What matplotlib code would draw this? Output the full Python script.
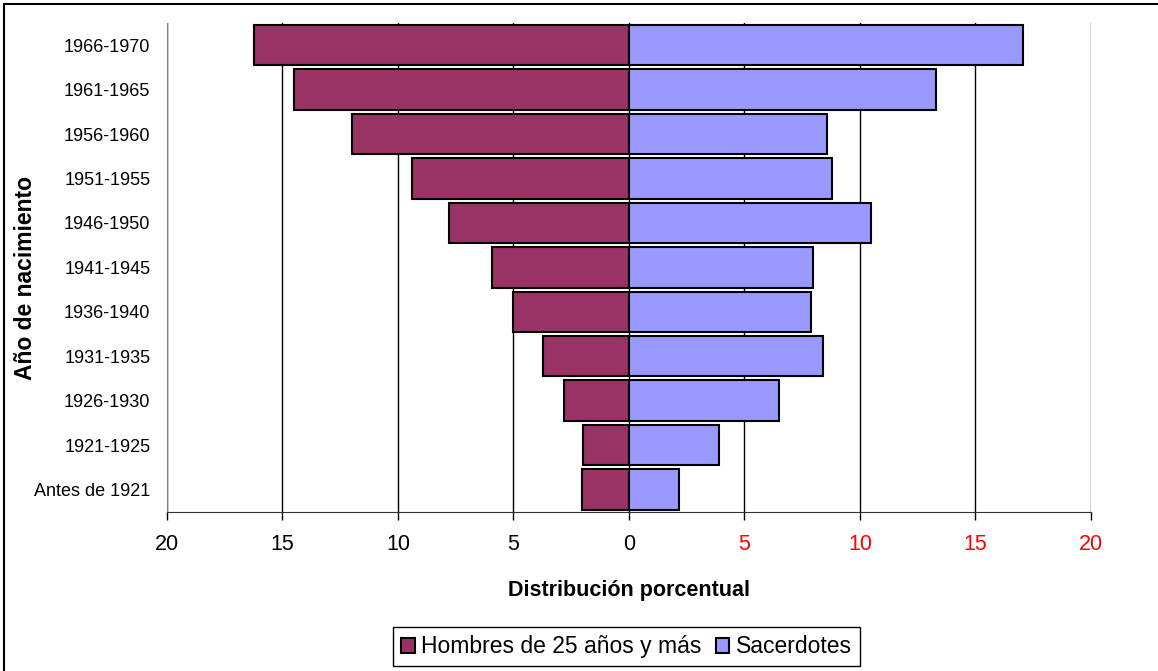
import matplotlib.pyplot as plt
from matplotlib.patches import Rectangle
from matplotlib.ticker import FixedLocator

plt.rcParams['font.family'] = ['Liberation Sans', 'DejaVu Sans']

cohortes = ['Antes de 1921', '1921-1925', '1926-1930', '1931-1935', '1936-1940',
            '1941-1945', '1946-1950', '1951-1955', '1956-1960', '1961-1965', '1966-1970']
hombres = [2.05, 1.98, 2.83, 3.72, 5.03, 5.95, 7.78, 9.38, 11.99, 14.5, 16.25]
sacerdotes = [2.15, 3.9, 6.49, 8.41, 7.88, 7.95, 10.48, 8.8, 8.57, 13.29, 17.04]
ticks = [-20, -15, -10, -5, 0, 5, 10, 15, 20]

col_h = '#993366'
col_s = '#9999FF'

fig = plt.figure(figsize=(11.58, 6.71), dpi=100)
ax = fig.add_axes([0.1442, 0.2374, 0.7979, 0.7283])

y = range(len(cohortes))
ax.barh(y, [-v for v in hombres], height=0.91, color=col_h, edgecolor='black',
        linewidth=1.5, label='Hombres de 25 años y más', zorder=3)
ax.barh(y, sacerdotes, height=0.91, color=col_s, edgecolor='black',
        linewidth=1.5, label='Sacerdotes', zorder=3)

ax.set_xlim(-20, 20)
ax.set_ylim(-0.5, len(cohortes) - 0.5)

ax.xaxis.set_major_locator(FixedLocator(ticks))
ax.set_xticklabels([str(abs(t)) for t in ticks], fontsize=15.5)
for t, lab in zip(ticks, ax.get_xticklabels()):
    lab.set_color('red' if t > 0 else 'black')
ax.tick_params(axis='x', direction='out', length=6, width=1, color='black', pad=10)

ax.set_yticks(list(y))
ax.set_yticklabels(cohortes, fontsize=13)
ax.tick_params(axis='y', length=0, pad=12)

ax.grid(axis='x', color='black', linewidth=1)
ax.set_axisbelow(True)

ax.spines['top'].set_visible(False)
ax.spines['right'].set_visible(False)
ax.spines['left'].set_color('#808080')
ax.spines['bottom'].set_color('#333333')

ax.set_xlabel('Distribución porcentual', fontsize=15.5, fontweight='bold')
ax.xaxis.set_label_coords(0.5, -0.14)
ax.set_ylabel('Año de nacimiento', fontsize=16.5, fontweight='bold')
ax.yaxis.set_label_coords(-0.141, 0.478)

fig.legend(loc='lower center', bbox_to_anchor=(0.541, 0.0), ncol=2, fontsize=16.5,
           frameon=True, fancybox=False, edgecolor='black', framealpha=1,
           handlelength=0.6, handleheight=0.6, handletextpad=0.3, columnspacing=0.6,
           borderpad=0.35, borderaxespad=0.2)

# outer chart frame
fig.patches.append(Rectangle((4 / 1158, -0.05), 1.2, 1.05 - 4 / 671, transform=fig.transFigure,
                             fill=False, edgecolor='black', linewidth=1.5))

fig.savefig('out.png', dpi=100)
